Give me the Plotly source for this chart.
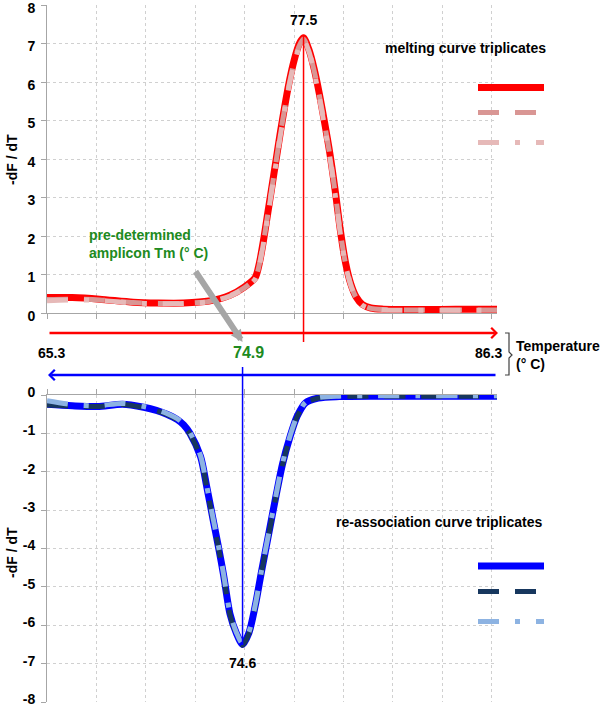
import plotly.graph_objects as go

# ---------------- data ----------------
TEMP_MELT = [65.3, 66.5, 67.8, 69.4, 70.6, 71.8, 73.0, 74.0, 74.7, 75.2,
             75.4, 75.6, 75.8, 76.0, 76.2, 76.4, 76.6, 76.8, 77.0, 77.2,
             77.35, 77.5, 77.75, 78.0, 78.25, 78.5, 78.75, 79.0, 79.25, 79.5,
             79.75, 80.0, 80.3, 80.7, 81.3, 82.5, 84.0, 85.5, 86.7]
MELT_1 = [0.40, 0.40, 0.36, 0.28, 0.26, 0.26, 0.31, 0.46, 0.68, 0.92,
          1.3, 1.9, 2.6, 3.3, 4.0, 4.7, 5.35, 5.95, 6.45, 6.85,
          7.05, 7.15, 6.85, 6.35, 5.7, 4.95, 4.15, 3.2, 2.15, 1.3,
          0.75, 0.42, 0.22, 0.13, 0.10, 0.09, 0.09, 0.10, 0.10]
MELT_2 = [0.35, 0.36, 0.34, 0.27, 0.25, 0.25, 0.30, 0.45, 0.66, 0.90,
          1.27, 1.86, 2.56, 3.26, 3.96, 4.66, 5.3, 5.9, 6.4, 6.8,
          7.0, 7.12, 6.82, 6.3, 5.65, 4.9, 4.1, 3.15, 2.1, 1.27,
          0.73, 0.40, 0.21, 0.12, 0.09, 0.08, 0.08, 0.08, 0.08]
MELT_3 = [0.32, 0.34, 0.33, 0.26, 0.24, 0.25, 0.29, 0.44, 0.65, 0.88,
          1.24, 1.83, 2.52, 3.22, 3.92, 4.62, 5.26, 5.86, 6.36, 6.76,
          6.98, 7.1, 6.8, 6.27, 5.6, 4.85, 4.05, 3.1, 2.06, 1.24,
          0.71, 0.38, 0.20, 0.11, 0.08, 0.07, 0.07, 0.07, 0.07]

TEMP_REASSOC = [65.3, 66.5, 67.7, 68.9, 69.9, 70.5, 71.0, 71.5, 71.8, 72.1, 72.6, 72.9,
                73.2, 73.45, 73.7, 74.0, 74.3, 74.6, 74.9, 75.2, 75.5, 75.85, 76.2,
                76.5, 76.85, 77.2, 77.6, 78.2, 79.2, 81.0, 83.0, 85.0, 86.8]
REASSOC_1 = [-0.24, -0.28, -0.30, -0.24, -0.32, -0.40, -0.50, -0.64, -0.78, -1.0, -1.6,
             -2.4, -3.25, -3.95, -4.7, -5.7, -6.2, -6.5, -6.2, -5.5, -4.6, -3.6, -2.6,
             -1.8, -1.1, -0.55, -0.20, -0.08, -0.04, -0.03, -0.03, -0.03, -0.03]
REASSOC_2 = [-0.26, -0.29, -0.30, -0.25, -0.33, -0.41, -0.51, -0.65, -0.80, -1.02, -1.62,
             -2.42, -3.27, -3.97, -4.72, -5.72, -6.22, -6.52, -6.22, -5.52, -4.62, -3.62,
             -2.62, -1.82, -1.12, -0.56, -0.21, -0.08, -0.04, -0.03, -0.03, -0.03, -0.03]
REASSOC_3 = [-0.15, -0.25, -0.28, -0.22, -0.30, -0.38, -0.48, -0.62, -0.76, -0.98, -1.58,
             -2.38, -3.22, -3.92, -4.68, -5.68, -6.18, -6.48, -6.18, -5.48, -4.58, -3.58,
             -2.58, -1.78, -1.08, -0.54, -0.19, -0.07, -0.03, -0.02, -0.02, -0.02, -0.02]

MELT_PEAK = 77.5
REASSOC_PEAK = 74.6
PREDETERMINED_TM = 74.9
T_MIN_LABEL = 65.3
T_MAX_LABEL = 86.3

TOP_TICKS = [0, 1, 2, 3, 4, 5, 6, 7, 8]
BOTTOM_TICKS = [0, -1, -2, -3, -4, -5, -6, -7, -8]

# ---------------- styling ----------------
FONT = "Liberation Sans, Arial, sans-serif"
W, H = 600, 708
ML, MR = 47, 103
PW = W - ML - MR

RED = "#ff0000"
ROSY = "#d99694"
PINK = "#e6b9b8"
BLUE = "#0000ff"
NAVY = "#17375e"
LIGHTBLUE = "#8db3e2"
GREEN = "#208a20"
GRID = "#d0d0d0"
AXIS = "#a6a6a6"

DASH = "21px,16px"
DASHDOT = "21px,16px,5px,16px"


def pxx(p):
    return (p - ML) / PW


def pxy(p):
    return 1 - p / H


fig = go.Figure()

top_series = [(MELT_1, RED, 7, "solid"), (MELT_2, ROSY, 5, DASH), (MELT_3, PINK, 5, DASHDOT)]
for ys, col, w, d in top_series:
    fig.add_trace(go.Scatter(x=TEMP_MELT, y=ys, mode="lines", xaxis="x", yaxis="y",
                             line=dict(color=col, width=w, dash=d, shape="spline", smoothing=0.8),
                             hoverinfo="skip"))

bottom_series = [(REASSOC_1, BLUE, 7, "solid"), (REASSOC_2, NAVY, 5, DASH), (REASSOC_3, LIGHTBLUE, 5, DASHDOT)]
for ys, col, w, d in bottom_series:
    fig.add_trace(go.Scatter(x=TEMP_REASSOC, y=ys, mode="lines", xaxis="x2", yaxis="y2",
                             line=dict(color=col, width=w, dash=d, shape="spline", smoothing=0.8),
                             hoverinfo="skip"))

xcommon = dict(range=[65.3, 86.7], tick0=65.3, dtick=2.35, showgrid=True, gridcolor=GRID,
               griddash="dot", gridwidth=1, zeroline=False, showline=True, linecolor=AXIS,
               linewidth=1, ticks="outside", ticklen=5, tickcolor=AXIS, showticklabels=False,
               domain=[0, 1], fixedrange=True)
ycommon = dict(showgrid=True, gridcolor=GRID, griddash="dot", gridwidth=1, zeroline=False,
               showline=True, linecolor=AXIS, linewidth=1, ticks="outside", ticklen=5,
               tickcolor=AXIS, tickfont=dict(size=14, color="black", family=FONT),
               ticklabelstandoff=3, ticklabeloverflow="allow", fixedrange=True)

fig.update_layout(
    width=W, height=H, template="none",
    margin=dict(l=ML, r=MR, t=0, b=0, pad=0),
    paper_bgcolor="white", plot_bgcolor="white",
    showlegend=False, hovermode=False,
    font=dict(family=FONT, size=14, color="black", weight="bold"),
    xaxis=dict(anchor="y", **xcommon),
    xaxis2=dict(anchor="y2", side="top", matches="x", **xcommon),
    yaxis=dict(anchor="x", domain=[pxy(313), pxy(5)], range=[0, 8], tickvals=TOP_TICKS,
               ticktext=[f"<b>{v}</b>" for v in TOP_TICKS], ticklabelshift=3, **ycommon),
    yaxis2=dict(anchor="x2", domain=[pxy(702), pxy(395)], range=[-8, 0], tickvals=BOTTOM_TICKS,
                ticktext=[f"<b>{v}</b>" for v in BOTTOM_TICKS], ticklabelshift=-3, **ycommon),
)

shapes = []
# peak marker lines
shapes.append(dict(type="line", xref="x", yref="paper", x0=MELT_PEAK, x1=MELT_PEAK,
                   y0=pxy(342), y1=pxy(35), line=dict(color=RED, width=1.5)))
shapes.append(dict(type="line", xref="x", yref="paper", x0=REASSOC_PEAK, x1=REASSOC_PEAK,
                   y0=pxy(645), y1=pxy(367), line=dict(color=BLUE, width=1.5)))

# legend swatches
for py, col, w, d in [(87.5, RED, 7, "solid"), (112.5, ROSY, 5, DASH), (142.5, PINK, 5, DASHDOT),
                      (566, BLUE, 7, "solid"), (591.5, NAVY, 5, DASH), (621.5, LIGHTBLUE, 5, DASHDOT)]:
    shapes.append(dict(type="line", xref="paper", yref="paper", x0=pxx(478), x1=pxx(544),
                       y0=pxy(py), y1=pxy(py), line=dict(color=col, width=w, dash=d)))

# curly bracket for temperature
bp = [(505, 333), (509, 333), (509, 352), (512, 355), (509, 358), (509, 375), (505, 375)]
path = "M " + " L ".join(f"{pxx(a):.5f},{pxy(b):.5f}" for a, b in bp)
shapes.append(dict(type="path", xref="paper", yref="paper", path=path,
                   line=dict(color="#404040", width=1.2)))

fig.update_layout(shapes=shapes)

ann = []
# temperature arrows
ann.append(dict(x=pxx(498), y=pxy(333), xref="paper", yref="paper", ax=-450, ay=0, axref="pixel",
                ayref="pixel", text="", showarrow=True, arrowhead=4, arrowsize=0.8,
                arrowwidth=2.5, arrowcolor=RED))
ann.append(dict(x=pxx(48), y=pxy(375), xref="paper", yref="paper", ax=449, ay=0, axref="pixel",
                ayref="pixel", text="", showarrow=True, arrowhead=4, arrowsize=0.8,
                arrowwidth=2.5, arrowcolor=BLUE))
# gray pointer arrow
ann.append(dict(x=REASSOC_PEAK, y=pxy(342), xref="x", yref="paper", ax=-48, ay=-72,
                axref="pixel", ayref="pixel", text="", showarrow=True, arrowhead=2,
                arrowsize=0.4, arrowwidth=6, arrowcolor="#a6a6a6"))


def label(x, y, text, xref="paper", **kw):
    d = dict(x=x, y=y, xref=xref, yref="paper", text=text, showarrow=False,
             xanchor="center", yanchor="middle")
    d.update(kw)
    ann.append(d)


label(MELT_PEAK, pxy(20), f"{MELT_PEAK}", xref="x")
label(REASSOC_PEAK, pxy(663), f"{REASSOC_PEAK}", xref="x")
label(T_MIN_LABEL, pxy(353), f"{T_MIN_LABEL}", xref="x", xshift=4)
label(T_MAX_LABEL, pxy(353), f"{T_MAX_LABEL}", xref="x")
label(PREDETERMINED_TM, pxy(353), f"{PREDETERMINED_TM}", xref="x",
      font=dict(size=16, color=GREEN))
label(pxx(514), pxy(355), "Temperature<br>(° C)", xanchor="left", align="left")
label(pxx(87), pxy(243.5), "pre-determined<br>amplicon Tm (° C)", xanchor="left", align="left",
      font=dict(size=14, color=GREEN))
label(pxx(465.5), pxy(48), "melting curve triplicates")
label(pxx(439), pxy(522), "re-association curve triplicates")
label(pxx(12), pxy(160), "-dF / dT", textangle=-90)
label(pxx(12), pxy(553), "-dF / dT", textangle=-90)
fig.update_layout(annotations=ann)

fig.write_html("out.html", config={"displayModeBar": False},
               post_script="document.body.style.margin='0px';document.body.style.overflow='hidden';")
